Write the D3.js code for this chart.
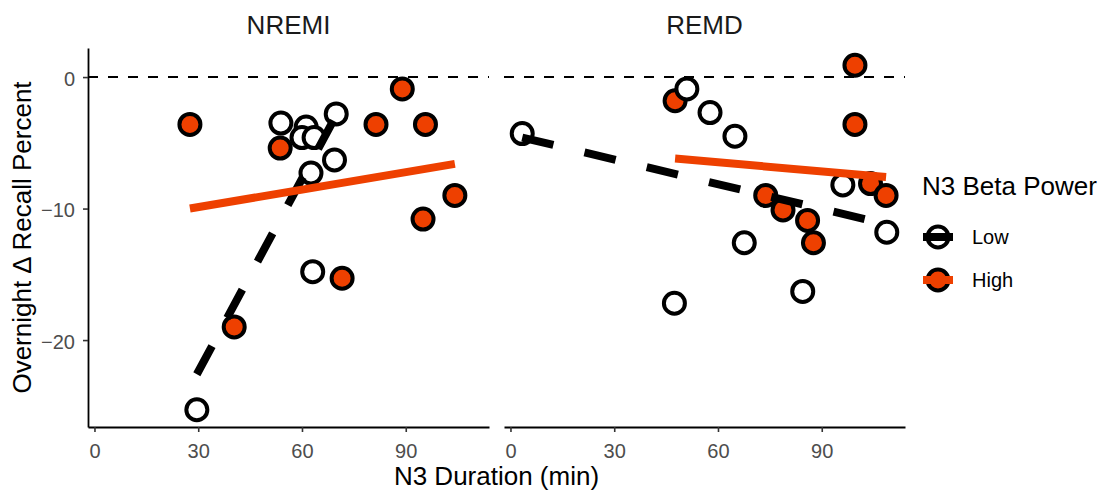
<!DOCTYPE html>
<html>
<head>
<meta charset="utf-8">
<script src="https://cdn.jsdelivr.net/npm/d3@7"></script>
<style>
  html, body { margin: 0; padding: 0; background: #fff; }
  svg { display: block; font-family: "Liberation Sans", Arial, sans-serif; }
</style>
</head>
<body>
<svg id="chart" width="1101" height="495"></svg>
<script>
// Facets, groups and axis ticks
const panels = ["NREMI", "REMD"];
const groups = ["Low", "High"];
const xTicks = [0, 30, 60, 90];
const yTicks = [-20, -10, 0];

// N3 duration (min) vs overnight change in recall (%), by N3 beta power group
const nremiLowX  = [29.6, 53.9, 61.2, 60.0, 63.5, 69.9, 69.4, 62.6, 63.1];
const nremiLowY  = [-25.3, -3.5, -3.8, -4.6, -4.6, -2.8, -6.3, -7.3, -14.8];
const nremiHighX = [27.6, 53.7, 89.0, 81.4, 95.7, 104.2, 95.0, 71.6, 40.4];
const nremiHighY = [-3.6, -5.4, -0.9, -3.6, -3.6, -9.0, -10.8, -15.3, -19.0];
const remdLowX   = [3.4, 51.0, 57.7, 64.9, 67.6, 47.4, 84.5, 96.1, 108.8];
const remdLowY   = [-4.3, -0.9, -2.7, -4.5, -12.6, -17.2, -16.3, -8.2, -11.8];
const remdHighX  = [47.6, 99.6, 99.6, 73.8, 78.8, 85.9, 87.6, 104.1, 108.6];
const remdHighY  = [-1.8, 0.9, -3.6, -9.0, -10.1, -10.9, -12.6, -8.1, -9.0];

// Linear fit end points for each facet and group
const nremiLowFit  = [[29.6, -22.6], [69.9, -2.9]];
const nremiHighFit = [[27.6, -10.0], [104.2, -6.6]];
const remdLowFit   = [[3.4, -4.6], [108.8, -11.2]];
const remdHighFit  = [[47.6, -6.2], [108.6, -7.6]];

const pairs = (xs, ys) => xs.map((x, i) => [x, ys[i]]);
const panelData = {
  NREMI: {
    Low:  { pts: pairs(nremiLowX, nremiLowY),   fit: nremiLowFit },
    High: { pts: pairs(nremiHighX, nremiHighY), fit: nremiHighFit }
  },
  REMD: {
    Low:  { pts: pairs(remdLowX, remdLowY),     fit: remdLowFit },
    High: { pts: pairs(remdHighX, remdHighY),   fit: remdHighFit }
  }
};

const ORANGE = "#EE4000";
const style = {
  Low:  { fill: "#ffffff", line: "#000000", dash: "32,32" },
  High: { fill: ORANGE,    line: ORANGE,    dash: null }
};

// Layout
const plotTop = 48, plotBottom = 427;
const panelW = 401, gap = 15, left0 = 88;
const panelLeft = [left0, left0 + panelW + gap];
const R = 10.5, PT_STROKE = 4, FIT_W = 8;

// Shared scales with 5% expansion of the data range
const allX = [...nremiLowX, ...nremiHighX, ...remdLowX, ...remdHighX];
const allY = [...nremiLowY, ...nremiHighY, ...remdLowY, ...remdHighY];
function expand(vals) {
  const [a, b] = d3.extent(vals);
  const p = (b - a) * 0.05;
  return [a - p, b + p];
}
const xDom = expand(allX), yDom = expand(allY);
const y = d3.scaleLinear().domain(yDom).range([plotBottom, plotTop]);

const svg = d3.select("#chart");

panels.forEach((name, pi) => {
  const x0 = panelLeft[pi];
  const x = d3.scaleLinear().domain(xDom).range([x0, x0 + panelW]);
  const g = svg.append("g");

  // facet title
  g.append("text")
    .attr("x", x0 + panelW / 2).attr("y", 34)
    .attr("text-anchor", "middle")
    .attr("font-size", 26).attr("fill", "#1a1a1a")
    .text(name);

  // zero reference line
  g.append("line")
    .attr("x1", x0).attr("x2", x0 + panelW)
    .attr("y1", y(0)).attr("y2", y(0))
    .attr("stroke", "#000").attr("stroke-width", 2)
    .attr("stroke-dasharray", "10,10");

  // x axis
  const xAxis = g.append("g")
    .attr("transform", `translate(0,${plotBottom})`)
    .call(d3.axisBottom(x).tickValues(xTicks).tickSize(5).tickPadding(6).tickSizeOuter(0));
  xAxis.select(".domain").attr("stroke", "#000").attr("stroke-width", 1.8);
  xAxis.selectAll(".tick line").attr("stroke", "#333").attr("stroke-width", 1.6);
  xAxis.selectAll(".tick text")
    .attr("font-size", 20).attr("fill", "#4D4D4D")
    .attr("font-family", "Liberation Sans, Arial, sans-serif")
    .attr("dy", null).attr("y", 31);

  // y axis on the first facet only
  if (pi === 0) {
    const yAxis = g.append("g")
      .attr("transform", `translate(${x0},0)`)
      .call(d3.axisLeft(y).tickValues(yTicks).tickSize(5).tickPadding(8).tickSizeOuter(0));
    yAxis.select(".domain").attr("stroke", "#000").attr("stroke-width", 1.8);
    yAxis.selectAll(".tick line").attr("stroke", "#333").attr("stroke-width", 1.6);
    yAxis.selectAll(".tick text")
      .attr("font-size", 20).attr("fill", "#4D4D4D")
      .attr("font-family", "Liberation Sans, Arial, sans-serif")
      .attr("dy", null).attr("y", 8).attr("x", -13);
  }

  // points: High first, Low on top
  ["High", "Low"].forEach(grp => {
    g.append("g").selectAll("circle")
      .data(panelData[name][grp].pts)
      .join("circle")
      .attr("cx", d => x(d[0]))
      .attr("cy", d => y(d[1]))
      .attr("r", R)
      .attr("fill", style[grp].fill)
      .attr("stroke", "#000")
      .attr("stroke-width", PT_STROKE);
  });

  // linear fits
  const line = d3.line().x(d => x(d[0])).y(d => y(d[1]));
  groups.forEach(grp => {
    g.append("path")
      .datum(panelData[name][grp].fit)
      .attr("d", line)
      .attr("fill", "none")
      .attr("stroke", style[grp].line)
      .attr("stroke-width", FIT_W)
      .attr("stroke-dasharray", style[grp].dash);
  });
});

// axis titles
svg.append("text")
  .attr("x", (panelLeft[0] + panelLeft[1] + panelW) / 2).attr("y", 485)
  .attr("text-anchor", "middle").attr("font-size", 26).attr("fill", "#000")
  .text("N3 Duration (min)");

svg.append("text")
  .attr("transform", `translate(31,${(plotTop + plotBottom) / 2}) rotate(-90)`)
  .attr("text-anchor", "middle").attr("font-size", 26).attr("fill", "#000")
  .text("Overnight Δ Recall Percent");

// legend
const legend = svg.append("g").attr("transform", "translate(922,0)");
legend.append("text")
  .attr("x", 0).attr("y", 195)
  .attr("font-size", 26).attr("fill", "#000")
  .text("N3 Beta Power");

const keyY = [237, 280];
groups.forEach((grp, i) => {
  const k = legend.append("g").attr("transform", `translate(16,${keyY[i]})`);
  k.append("circle")
    .attr("r", R).attr("fill", style[grp].fill)
    .attr("stroke", "#000").attr("stroke-width", PT_STROKE);
  k.append("line")
    .attr("x1", -15).attr("x2", 15)
    .attr("stroke", style[grp].line).attr("stroke-width", FIT_W);
  legend.append("text")
    .attr("x", 50).attr("y", keyY[i] + 7)
    .attr("font-size", 20).attr("fill", "#000")
    .text(grp);
});
</script>
</body>
</html>
